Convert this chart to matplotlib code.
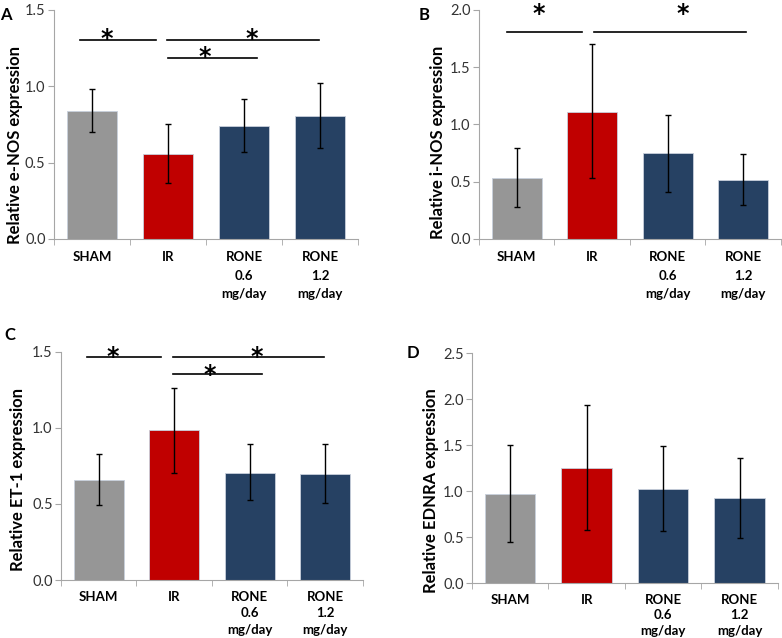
import matplotlib
matplotlib.use("Agg")
import matplotlib.pyplot as plt
import matplotlib.transforms as mtransforms
import numpy as np

plt.rcParams['font.family'] = ['Lato', 'DejaVu Sans']

categories = ["SHAM", "IR", "RONE\n0.6\nmg/day", "RONE\n1.2\nmg/day"]
colors = ["#969696", "#c00000", "#264163", "#264163"]

enos_mean = [0.835, 0.556, 0.741, 0.807]
enos_lo = [0.698, 0.364, 0.573, 0.595]
enos_hi = [0.981, 0.754, 0.916, 1.02]

inos_mean = [0.532, 1.113, 0.747, 0.517]
inos_lo = [0.282, 0.529, 0.41, 0.299]
inos_hi = [0.791, 1.703, 1.087, 0.738]

et1_mean = [0.658, 0.986, 0.706, 0.70]
et1_lo = [0.494, 0.704, 0.525, 0.507]
et1_hi = [0.827, 1.266, 0.894, 0.894]

ednra_mean = [0.969, 1.255, 1.023, 0.925]
ednra_lo = [0.443, 0.573, 0.566, 0.493]
ednra_hi = [1.502, 1.934, 1.488, 1.364]

# significance brackets: (x_start, x_end, y, star_x, star_y)
sig_A = [(-0.16, 0.84, 1.30, 0.2, 1.358), (0.98, 2.99, 1.30, 2.1, 1.358), (1.0, 2.17, 1.188, 1.48, 1.24)]
sig_B = [(-0.13, 0.86, 1.808, 0.29, 2.03), (1.03, 3.04, 1.808, 2.2, 2.03)]
sig_C = [(-0.16, 0.83, 1.467, 0.185, 1.52), (0.98, 2.99, 1.467, 2.1, 1.52), (0.99, 2.16, 1.354, 1.47, 1.40)]
sig_D = []

panels = [
    ("A", "Relative e-NOS expression", enos_mean, enos_lo, enos_hi, 1.5, [0.069, 0.6254, 0.389, 0.359], sig_A, 1.64, 9, (6, 15), (-0.128, 0.41)),
    ("B", "Relative i-NOS expression", inos_mean, inos_lo, inos_hi, 2.0, [0.6125, 0.6254, 0.386, 0.359], sig_B, 1.64, 9, (424, 15), (-0.136, 0.42)),
    ("C", "Relative ET-1 expression", et1_mean, et1_lo, et1_hi, 1.5, [0.078, 0.0909, 0.386, 0.3574], sig_C, 1.42, 8, (10, 335), (-0.142, 0.44)),
    ("D", "Relative EDNRA expression", ednra_mean, ednra_lo, ednra_hi, 2.5, [0.6036, 0.0862, 0.391, 0.3605], sig_D, 1.33, 8, (413, 353), (-0.134, 0.40)),
]

W, H = 782, 638
fig = plt.figure(figsize=(W / 100, H / 100), dpi=100)
spine_col = "#a6a6a6"

for letter, ylabel, mean, lo, hi, ymax, pos, sigs, lsp, xpad, lpos, ylab_xy in panels:
    ax = fig.add_axes(pos)
    x = np.arange(len(categories))
    mean = np.array(mean); lo = np.array(lo); hi = np.array(hi)
    ax.bar(x, mean, width=0.66, color=colors, edgecolor="#c8d0dc", linewidth=0.6, zorder=2)
    ax.errorbar(x, mean, yerr=[mean - lo, hi - mean], fmt="none", ecolor="black",
                elinewidth=1.0, capsize=2.5, capthick=1.0, zorder=3)
    ax.set_xlim(-0.5, 3.5)
    ax.set_ylim(0, ymax)
    ticks = np.arange(0, ymax + 0.01, 0.5)
    ax.set_yticks(ticks)
    ax.set_yticklabels([f"{v:.1f}" for v in ticks])
    ax.spines["top"].set_visible(False)
    ax.spines["right"].set_visible(False)
    ax.spines["left"].set_color(spine_col)
    ax.spines["bottom"].set_color(spine_col)
    ax.tick_params(axis="y", length=4, color=spine_col, labelsize=10.5, labelcolor="#333333", pad=2)
    ax.set_xticks(x)
    ax.set_xticklabels(categories, fontweight="bold", fontsize=9.5, linespacing=lsp, va="top")
    ax.tick_params(axis="x", which="major", length=0, pad=xpad)
    ax.set_xticks(np.arange(-0.5, 3.6, 1.0), minor=True)
    ax.tick_params(axis="x", which="minor", length=4, color=spine_col)
    ax.set_ylabel(ylabel, fontweight="bold", fontsize=12, va="center")
    ax.yaxis.set_label_coords(ylab_xy[0], ylab_xy[1])
    star_tr = mtransforms.offset_copy(ax.transData, fig=fig, x=0, y=-5.5, units="points")
    for xs, xe, yl, sx, sy in sigs:
        ax.plot([xs, xe], [yl, yl], color="black", lw=1.2, clip_on=False)
        ax.text(sx, sy, "*", transform=star_tr, ha="center", va="center", fontsize=17,
                fontweight="bold", family="DejaVu Sans", clip_on=False)
    fig.text(lpos[0] / W, 1 - lpos[1] / H, letter, fontsize=12, fontweight="bold",
             ha="center", va="center")

fig.savefig("out.png", dpi=100)
